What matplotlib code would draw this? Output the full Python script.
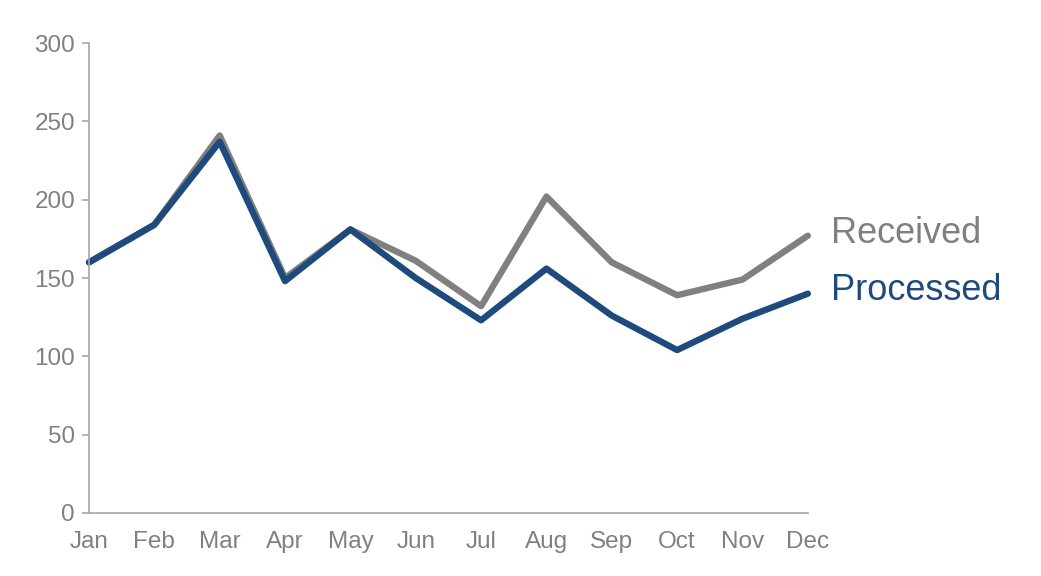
import numpy as np
import matplotlib.pyplot as plt

plt.rcParams['font.family'] = ['Liberation Sans', 'DejaVu Sans']

months = ['Jan', 'Feb', 'Mar', 'Apr', 'May', 'Jun', 'Jul', 'Aug', 'Sep', 'Oct', 'Nov', 'Dec']
received = [160, 184, 241, 150, 181, 161, 132, 202, 160, 139, 149, 177]
processed = [160, 184, 237, 148, 181, 150, 123, 156, 126, 104, 124, 140]

grey = '#808080'
blue = '#1f4a7d'
axis_col = '#a6a6a6'

fig = plt.figure(figsize=(10.41, 5.76), dpi=100)
ax = fig.add_axes([0.0855, 0.1094, 0.6905, 0.8159])

x = np.arange(len(months))
ax.plot(x, received, color=grey, linewidth=4.6, solid_capstyle='round', solid_joinstyle='round', clip_on=False)
ax.plot(x, processed, color=blue, linewidth=4.6, solid_capstyle='round', solid_joinstyle='round', clip_on=False)

# series labels at the end of each line
ax.annotate('Received', xy=(x[-1], received[-1]), xytext=(17, 1.5), textcoords='offset points',
            va='center', ha='left', fontsize=26, color=grey, annotation_clip=False)
ax.annotate('Processed', xy=(x[-1], processed[-1]), xytext=(17, 2.5), textcoords='offset points',
            va='center', ha='left', fontsize=26, color=blue, annotation_clip=False)

ax.set_xlim(0, 11)
ax.set_ylim(0, 300)
ax.set_xticks(x)
ax.set_xticklabels(months)
ax.set_yticks(np.arange(0, 301, 50))

for s in ['top', 'right']:
    ax.spines[s].set_visible(False)
for s in ['left', 'bottom']:
    ax.spines[s].set_color(axis_col)
    ax.spines[s].set_linewidth(1.2)

ax.tick_params(axis='y', length=5, width=1.2, color=axis_col, labelcolor=grey, labelsize=17.5, pad=5)
ax.tick_params(axis='x', length=0, labelcolor=grey, labelsize=17.5, pad=13)

fig.savefig('out.png', dpi=100)
